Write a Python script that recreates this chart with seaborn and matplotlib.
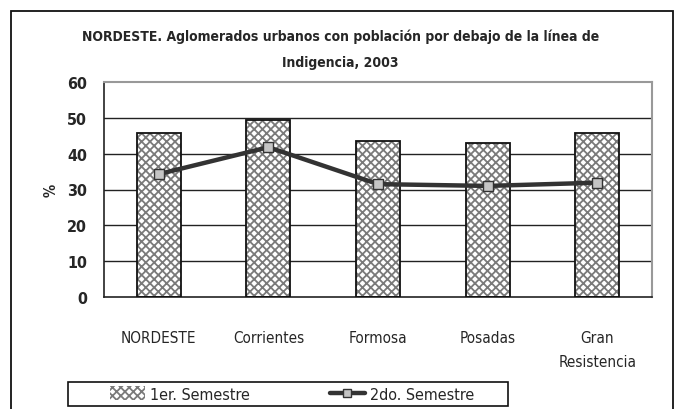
import matplotlib
matplotlib.use('Agg')
import pandas as pd
import matplotlib.pyplot as plt
import seaborn as sns
from matplotlib.patches import Rectangle, Patch
from matplotlib.lines import Line2D

categories = ['NORDESTE', 'Corrientes', 'Formosa', 'Posadas', 'Gran\nResistencia']
sem1 = [45.8, 49.5, 43.5, 42.9, 45.8]
sem2 = [34.3, 41.8, 31.5, 31.0, 31.9]
yticks = [0, 10, 20, 30, 40, 50, 60]

df = pd.DataFrame({'cat': categories, 'sem1': sem1, 'sem2': sem2})

sns.set_style('white')
plt.rcParams['font.family'] = ['DejaVu Sans']
plt.rcParams['font.stretch'] = 'condensed'
plt.rcParams['hatch.linewidth'] = 1.3

fig = plt.figure(figsize=(6.81, 4.10), dpi=100)
ax = fig.add_axes([104 / 681, 1 - 298 / 410, (652 - 104) / 681, (298 - 83) / 410])

# hatched bars, then a black outline on top
sns.barplot(data=df, x='cat', y='sem1', ax=ax, color='white', edgecolor='#7a7a7a',
            hatch='xxxx', linewidth=0, width=0.4, zorder=2)
sns.barplot(data=df, x='cat', y='sem1', ax=ax, fill=False, edgecolor='#111111',
            linewidth=1.3, width=0.4, zorder=3)
sns.lineplot(data=df, x='cat', y='sem2', ax=ax, color='#333333', linewidth=3.2,
             marker='s', markersize=7, markerfacecolor='#c4c4c4',
             markeredgecolor='#333333', markeredgewidth=1, zorder=4, sort=False)

ax.set_ylim(0, 60)
ax.set_xlim(-0.5, 4.5)
ax.set_yticks(yticks)
for v in yticks[1:-1]:
    ax.axhline(v, color='#222222', linewidth=1, zorder=1)

ax.set_xticks(range(len(categories)))
ax.set_xticklabels(categories, fontsize=11, linespacing=1.7, va='top')
ax.set_xticks([i - 0.5 for i in range(len(categories) + 1)], minor=True)
ax.tick_params(axis='x', which='major', length=0, pad=24)
ax.tick_params(axis='x', which='minor', length=5, width=1, color='#222222', direction='out')
ax.tick_params(axis='y', length=5, width=1, color='#222222', direction='out', pad=7,
               labelsize=11.5)
for lbl in ax.get_yticklabels():
    lbl.set_fontweight('bold')

ax.set_xlabel('')
ax.set_ylabel('%', fontsize=10.5, fontweight='bold', labelpad=6)

for side in ['top', 'right']:
    ax.spines[side].set_color('#999999')
    ax.spines[side].set_linewidth(1.5)
for side in ['left', 'bottom']:
    ax.spines[side].set_color('#222222')
    ax.spines[side].set_linewidth(1.2)

fig.text(0.5, 1 - 37 / 410, 'NORDESTE. Aglomerados urbanos con población por debajo de la línea de',
         ha='center', va='center', fontsize=10, fontweight='bold')
fig.text(0.5, 1 - 63 / 410, 'Indigencia, 2003', ha='center', va='center',
         fontsize=10, fontweight='bold')

# outer chart border
fig.patches.append(Rectangle((11 / 681, -0.1), (673 - 11) / 681, 1 - 12 / 410 + 0.1,
                             transform=fig.transFigure, fill=False,
                             edgecolor='#111111', linewidth=1.3))
# legend frame
fig.patches.append(Rectangle((68 / 681, 3 / 410), (508 - 68) / 681, 24 / 410,
                             transform=fig.transFigure, fill=False,
                             edgecolor='#111111', linewidth=1.2))

handles = [Patch(facecolor='white', edgecolor='#7a7a7a', hatch='xxxx', linewidth=0),
           Line2D([0], [0], color='#333333', linewidth=3.2, marker='s', markersize=6,
                  markerfacecolor='#c4c4c4', markeredgecolor='#333333')]
leg = fig.legend(handles, ['1er. Semestre', '2do. Semestre'], ncol=2,
                 loc='center', bbox_to_anchor=(292 / 681, 15 / 410),
                 fontsize=11.5, frameon=False, handlelength=2.2, handleheight=0.9,
                 handletextpad=0.3, columnspacing=5.0, borderaxespad=0, borderpad=0)

plt.savefig('out.png', dpi=100)
